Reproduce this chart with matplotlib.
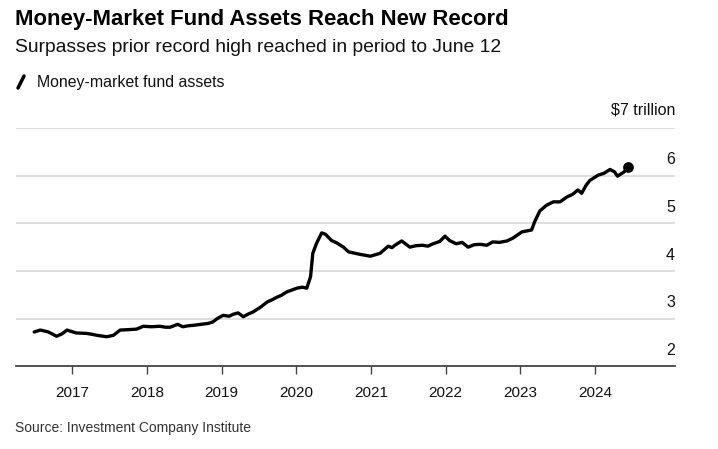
import matplotlib
matplotlib.use("Agg")
import matplotlib.pyplot as plt
from matplotlib.lines import Line2D
from matplotlib import font_manager

# fuente angosta si esta instalada
nombres = {f.name for f in font_manager.fontManager.ttflist}
FUENTE = "Liberation Sans Narrow" if "Liberation Sans Narrow" in nombres else "Liberation Sans"
plt.rcParams["font.family"] = [FUENTE, "DejaVu Sans"]

# fecha (anio fraccional) y activos (billones de USD)
fechas = [2016.49, 2016.57, 2016.63, 2016.68, 2016.79, 2016.86, 2016.93, 2017.05, 2017.19,
          2017.27, 2017.33, 2017.46, 2017.55, 2017.64, 2017.76, 2017.86, 2017.95, 2018.06,
          2018.17, 2018.25, 2018.31, 2018.41, 2018.48, 2018.55, 2018.62, 2018.72, 2018.82,
          2018.88, 2018.94, 2019.02, 2019.10, 2019.15, 2019.22, 2019.29, 2019.36, 2019.42,
          2019.52, 2019.61, 2019.68, 2019.74, 2019.80, 2019.87, 2019.94, 2020.01, 2020.08,
          2020.14, 2020.19, 2020.22, 2020.27, 2020.34, 2020.39, 2020.47, 2020.54, 2020.63,
          2020.70, 2020.85, 2020.99, 2021.12, 2021.23, 2021.28, 2021.32, 2021.41, 2021.52,
          2021.60, 2021.69, 2021.76, 2021.83, 2021.92, 2021.99, 2022.05, 2022.14, 2022.22,
          2022.30, 2022.38, 2022.46, 2022.55, 2022.63, 2022.72, 2022.82, 2022.90, 2023.02,
          2023.15, 2023.19, 2023.26, 2023.35, 2023.44, 2023.53, 2023.62, 2023.70, 2023.77,
          2023.82, 2023.88, 2023.93, 2024.04, 2024.12, 2024.20, 2024.26, 2024.30, 2024.39,
          2024.44]
activos = [2.72, 2.76, 2.74, 2.72, 2.63, 2.68, 2.76, 2.70, 2.69,
           2.67, 2.65, 2.62, 2.65, 2.76, 2.77, 2.78, 2.84, 2.83,
           2.84, 2.82, 2.82, 2.88, 2.83, 2.85, 2.86, 2.88, 2.90,
           2.93, 3.00, 3.07, 3.05, 3.09, 3.12, 3.04, 3.10, 3.14,
           3.24, 3.35, 3.40, 3.45, 3.49, 3.56, 3.60, 3.64, 3.66,
           3.64, 3.88, 4.37, 4.58, 4.80, 4.77, 4.64, 4.59, 4.50,
           4.40, 4.35, 4.31, 4.37, 4.52, 4.49, 4.54, 4.63, 4.50,
           4.53, 4.54, 4.52, 4.57, 4.62, 4.73, 4.64, 4.57, 4.60,
           4.50, 4.55, 4.56, 4.54, 4.61, 4.60, 4.63, 4.69, 4.82,
           4.86, 5.03, 5.26, 5.38, 5.45, 5.45, 5.55, 5.61, 5.70,
           5.63, 5.80, 5.90, 6.01, 6.05, 6.13, 6.08, 5.99, 6.08,
           6.18]

anios = [2017, 2018, 2019, 2020, 2021, 2022, 2023, 2024]
niveles = [2, 3, 4, 5, 6, 7]
etiquetas_y = ["2", "3", "4", "5", "6", "$7 trillion"]

W, H = 718, 449
fig = plt.figure(figsize=(W / 100, H / 100), dpi=100)
ax = fig.add_axes([16 / W, 1 - 366.3 / H, (675 - 16) / W, (366.3 - 128) / H])

ax.plot(fechas, activos, color="black", lw=2.4, solid_joinstyle="round", solid_capstyle="round", zorder=3)
ax.scatter([fechas[-1]], [activos[-1]], s=45, color="black", zorder=4)

ax.set_xlim(2016.246, 2025.07)
ax.set_ylim(2, 7)
for v in niveles[1:]:
    ax.axhline(v, color="#dcdcdc", lw=1.3, zorder=1)
for v, t in zip(niveles, etiquetas_y):
    ax.text(1.0, v + (0.38 if v == 7 else 0.33), t, transform=ax.get_yaxis_transform(),
            ha="right", va="center", fontsize=11.5, color="#111111")

for s in ["top", "right", "left"]:
    ax.spines[s].set_visible(False)
ax.spines["bottom"].set_color("#444444")
ax.spines["bottom"].set_linewidth(1.3)
ax.set_yticks([])
ax.set_xticks(anios)
ax.set_xticklabels([str(a) for a in anios], fontsize=11, color="#111111")
ax.tick_params(axis="x", length=6, width=1, color="#444444", pad=8)

# titulos
fig.text(15 / W, 1 - 19 / H, "Money-Market Fund Assets Reach New Record", fontsize=15.9,
         fontweight="bold", ha="left", va="center", color="black")
fig.text(15 / W, 1 - 48 / H, "Surpasses prior record high reached in period to June 12",
         fontsize=13.9, ha="left", va="center", color="#111111")
# leyenda
fig.add_artist(Line2D([18 / W, 24 / W], [1 - 88 / H, 1 - 76 / H], color="black", lw=2.5,
                      solid_capstyle="round"))
fig.text(37 / W, 1 - 82 / H, "Money-market fund assets", fontsize=11.4, ha="left",
         va="center", color="#111111")
fig.text(15 / W, 1 - 428 / H, "Source: Investment Company Institute", fontsize=10,
         ha="left", va="center", color="#333333")

fig.savefig("out.png", dpi=100)
